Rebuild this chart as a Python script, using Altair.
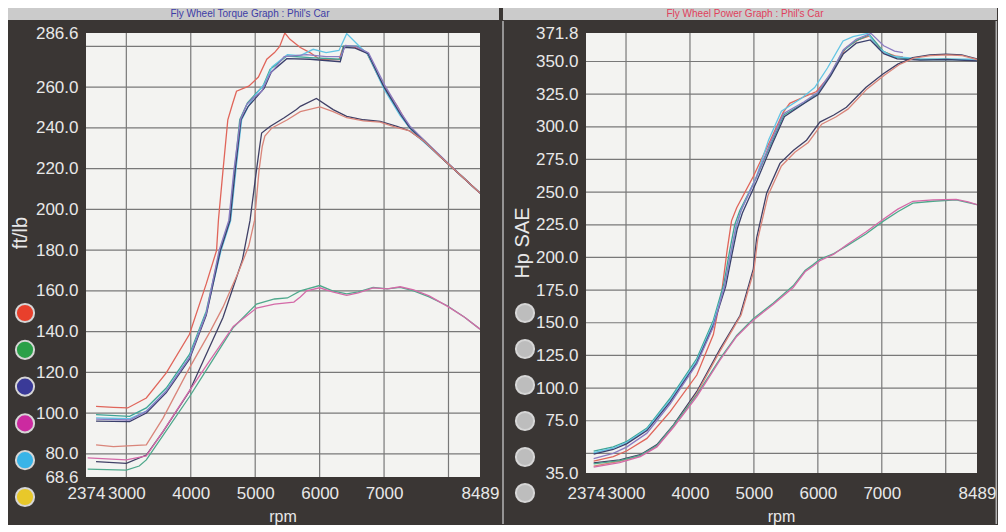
import altair as alt
import pandas as pd

# ---------------- Torque (ft/lb) runs ----------------
tq_red_rpm = [2530, 2800, 3020, 3310, 3620, 3980, 4240, 4400, 4430, 4500, 4575, 4650, 4710, 4900, 5050, 5180, 5300, 5380, 5460, 5540, 5700, 5850, 6000, 6300, 6370, 6550, 6730, 6900, 7000, 7200, 7380, 7620, 7870, 8180, 8489]
tq_red = [103.3, 102.8, 102.5, 107.4, 119.7, 138.7, 163.4, 179.8, 195.0, 219.0, 244.0, 252.0, 258.0, 260.5, 265.0, 273.7, 277.0, 280.0, 286.6, 283.5, 279.5, 277.0, 273.7, 273.5, 280.0, 279.5, 277.0, 266.0, 260.5, 251.0, 241.0, 234.0, 226.0, 217.0, 208.0]

tq_teal_rpm = [2530, 3050, 3310, 3620, 3980, 4240, 4450, 4600, 4680, 4760, 4880, 4970, 5120, 5230, 5490, 5850, 6320, 6370, 6580, 6730, 6990, 7250, 7380, 7620, 7870, 8180, 8489]
tq_teal = [99.2, 98.4, 102.5, 112.3, 128.8, 150.0, 179.8, 194.6, 219.3, 244.0, 252.3, 255.5, 260.5, 268.7, 275.3, 274.5, 273.7, 280.2, 280.2, 277.0, 260.5, 247.3, 240.7, 234.0, 226.0, 217.0, 208.0]

tq_cyan_rpm = [2530, 3050, 3310, 3620, 3980, 4240, 4470, 4620, 4700, 4790, 4900, 5000, 5150, 5260, 5500, 5700, 5900, 6100, 6300, 6420, 6620, 6750, 7000, 7250, 7460, 7870, 8180, 8489]
tq_cyan = [97.6, 97.2, 101.0, 111.0, 127.5, 149.0, 179.8, 194.6, 219.3, 244.0, 251.0, 256.0, 262.0, 270.0, 276.0, 275.5, 278.6, 277.0, 278.0, 286.3, 280.0, 276.0, 259.0, 246.0, 237.5, 226.0, 217.0, 208.0]

tq_navy_rpm = [2530, 3050, 3310, 3620, 3980, 4240, 4460, 4610, 4690, 4780, 4890, 4990, 5140, 5250, 5490, 5850, 6320, 6380, 6550, 6750, 7000, 7260, 7400, 7620, 7870, 8180, 8489]
tq_navy = [96.0, 95.8, 100.0, 110.0, 126.5, 148.0, 179.8, 194.6, 219.3, 244.0, 250.5, 254.0, 259.5, 267.5, 274.0, 273.7, 272.5, 279.6, 279.2, 276.5, 260.0, 246.5, 240.0, 233.5, 226.0, 217.0, 208.0]

tq_purple_rpm = [2530, 3050, 3310, 3620, 3980, 4240, 4440, 4590, 4670, 4770, 4870, 4980, 5100, 5220, 5450, 5800, 6100, 6330, 6400, 6560, 6760, 7010, 7270, 7400, 7620, 7870, 8180, 8489]
tq_purple = [97.0, 96.6, 100.8, 110.8, 127.2, 148.8, 179.8, 194.6, 219.3, 244.0, 251.5, 255.0, 258.0, 266.0, 275.0, 276.0, 275.0, 275.0, 280.5, 280.0, 276.8, 261.0, 247.0, 241.0, 234.0, 226.5, 217.0, 208.0]

tq_b_navy_rpm = [2530, 3000, 3310, 3570, 3980, 4500, 4800, 4920, 5020, 5070, 5100, 5230, 5450, 5640, 5700, 5950, 6210, 6420, 6680, 6940, 7200, 7400, 7620, 7870, 8180, 8489]
tq_b_navy = [76.1, 75.3, 79.4, 90.9, 110.7, 146.9, 175.0, 194.6, 219.3, 230.9, 237.5, 240.7, 245.0, 249.0, 250.6, 254.5, 249.0, 245.7, 244.0, 243.2, 240.7, 238.5, 233.5, 226.0, 217.0, 208.0]

tq_b_salmon_rpm = [2530, 2800, 3310, 3570, 3980, 4300, 4500, 4750, 4900, 4990, 5060, 5110, 5150, 5260, 5500, 5700, 6005, 6210, 6420, 6680, 6940, 7200, 7400, 7620, 7870, 8180, 8489]
tq_b_salmon = [84.4, 83.5, 84.4, 97.5, 122.2, 140.0, 152.0, 170.0, 182.0, 194.6, 219.3, 231.0, 236.0, 240.0, 244.0, 248.0, 250.3, 248.0, 245.0, 243.5, 242.8, 240.2, 238.5, 233.5, 226.0, 217.0, 208.0]

tq_c_green_rpm = [2400, 3000, 3200, 3310, 3570, 3980, 4300, 4660, 5020, 5300, 5500, 5700, 6000, 6200, 6420, 6600, 6830, 7050, 7250, 7460, 7700, 7980, 8250, 8489]
tq_c_green = [72.5, 72.0, 74.0, 77.0, 89.0, 108.0, 124.0, 142.0, 153.5, 156.0, 156.5, 160.0, 162.6, 160.0, 158.5, 159.5, 161.7, 161.0, 161.7, 160.0, 157.0, 152.7, 147.0, 141.2]

tq_c_magenta_rpm = [2400, 2700, 3000, 3310, 3570, 3980, 4300, 4660, 5020, 5300, 5600, 5700, 5800, 6000, 6200, 6420, 6600, 6830, 7050, 7250, 7460, 7700, 7980, 8250, 8489]
tq_c_magenta = [78.0, 77.5, 77.0, 79.0, 91.0, 111.0, 126.0, 142.5, 151.5, 153.5, 154.5, 157.0, 160.0, 161.5, 159.5, 157.8, 159.0, 161.5, 161.0, 162.0, 160.5, 157.5, 152.5, 147.0, 141.2]

# ---------------- Power (Hp SAE) runs ----------------
pw_red_rpm = [2494, 2800, 3015, 3327, 3691, 4107, 4366, 4500, 4580, 4650, 4731, 4990, 5250, 5458, 5560, 5770, 5979, 6200, 6343, 6450, 6650, 6809, 7018, 7227, 7330]
pw_red = [44.1, 47.5, 52.0, 61.5, 82.0, 110.0, 141.0, 175.0, 205.0, 228.0, 238.0, 262.0, 289.0, 311.0, 318.0, 322.6, 327.0, 340.0, 353.0, 361.0, 367.0, 369.5, 357.5, 354.0, 353.5]

pw_teal_rpm = [2494, 2800, 3015, 3327, 3691, 4107, 4366, 4530, 4620, 4700, 4780, 5020, 5270, 5470, 5780, 5990, 6200, 6394, 6600, 6809, 7018, 7227, 7600, 8007, 8489]
pw_teal = [51.7, 55.0, 59.3, 69.4, 92.2, 122.6, 152.0, 180.0, 205.0, 225.0, 236.0, 259.3, 287.2, 309.0, 318.0, 325.2, 340.0, 358.0, 366.0, 370.5, 358.0, 353.0, 351.5, 351.7, 351.0]

pw_cyan_rpm = [2494, 2800, 3015, 3327, 3691, 4107, 4366, 4550, 4650, 4730, 4800, 5040, 5230, 5430, 5750, 5950, 6150, 6394, 6550, 6780, 6950, 7150, 7600, 8007, 8422, 8489]
pw_cyan = [50.5, 54.0, 58.5, 68.5, 91.0, 121.0, 150.0, 180.0, 205.0, 224.0, 236.0, 262.0, 290.0, 312.0, 322.0, 330.0, 345.0, 365.7, 369.0, 371.5, 360.0, 354.0, 352.0, 351.7, 351.7, 351.5]

pw_navy_rpm = [2494, 2800, 3015, 3327, 3691, 4107, 4366, 4560, 4660, 4740, 4820, 5050, 5280, 5480, 5790, 6000, 6200, 6400, 6600, 6820, 7030, 7240, 7600, 8007, 8489]
pw_navy = [49.5, 53.0, 57.5, 67.5, 89.5, 119.5, 148.0, 178.0, 203.0, 222.0, 234.0, 259.0, 286.0, 308.0, 318.0, 324.5, 339.0, 356.0, 364.0, 366.5, 356.0, 352.0, 351.0, 351.5, 350.5]

pw_purple_rpm = [2494, 2800, 3015, 3327, 3691, 4107, 4366, 4540, 4640, 4720, 4800, 5030, 5260, 5460, 5780, 5990, 6200, 6400, 6600, 6830, 7030, 7200, 7330]
pw_purple = [46.0, 50.0, 55.0, 65.5, 88.0, 118.5, 147.0, 178.0, 204.0, 224.0, 236.0, 260.5, 288.0, 310.0, 319.0, 326.0, 341.0, 359.0, 367.0, 371.5, 362.0, 358.0, 356.8]

pw_b_navy_rpm = [2494, 2900, 3223, 3483, 3742, 4107, 4471, 4783, 4990, 5043, 5199, 5407, 5620, 5823, 6031, 6250, 6447, 6750, 7018, 7250, 7486, 7750, 8007, 8250, 8489]
pw_b_navy = [42.8, 45.0, 49.0, 56.7, 71.9, 97.4, 130.0, 155.5, 191.0, 215.0, 249.2, 272.0, 282.0, 289.7, 303.6, 309.0, 315.0, 330.0, 340.4, 348.0, 353.0, 355.0, 355.6, 355.0, 352.0]

pw_b_salmon_rpm = [2494, 2900, 3223, 3483, 3742, 4107, 4471, 4800, 5000, 5060, 5220, 5430, 5640, 5850, 6060, 6280, 6470, 6770, 7040, 7270, 7500, 7760, 8020, 8260, 8489]
pw_b_salmon = [40.3, 44.0, 48.0, 55.5, 70.5, 96.0, 128.5, 156.0, 190.0, 214.0, 247.5, 270.0, 280.5, 288.0, 302.0, 307.5, 313.5, 329.0, 339.5, 347.5, 352.5, 354.5, 355.0, 354.5, 351.5]

pw_c_green_rpm = [2494, 2900, 3223, 3483, 3742, 4107, 4471, 4731, 4990, 5300, 5614, 5800, 5927, 6031, 6250, 6447, 6750, 7018, 7250, 7486, 7800, 8163, 8350, 8489]
pw_c_green = [42.0, 44.5, 48.5, 56.0, 71.5, 94.8, 122.6, 140.3, 153.0, 165.0, 178.3, 190.0, 194.5, 198.5, 203.0, 208.7, 218.0, 227.6, 235.0, 241.6, 243.0, 244.0, 242.0, 240.4]

pw_c_magenta_rpm = [2494, 2900, 3223, 3483, 3742, 4107, 4471, 4731, 4990, 5300, 5614, 5800, 5927, 6031, 6250, 6447, 6750, 7018, 7250, 7486, 7800, 8163, 8350, 8489]
pw_c_magenta = [39.5, 43.0, 47.5, 55.0, 70.0, 93.5, 121.5, 139.5, 152.0, 164.0, 177.0, 189.0, 193.5, 197.5, 202.5, 209.5, 219.5, 229.0, 237.0, 243.0, 244.0, 244.5, 242.5, 240.4]

# ---------------- axes / labels ----------------
rpm_min, rpm_max = 2374, 8489
x_label_values = [2374, 3000, 4000, 5000, 6000, 7000, 8489]
x_grid_values = [3000, 4000, 5000, 6000, 7000, 8000]

tq_min, tq_max = 68.6, 286.6
tq_label_values = [68.6, 80, 100, 120, 140, 160, 180, 200, 220, 240, 260, 286.6]
tq_grid_values = [80, 100, 120, 140, 160, 180, 200, 220, 240, 260, 280]

pw_min, pw_max = 35.0, 371.8
pw_label_values = [35, 75, 100, 125, 150, 175, 200, 225, 250, 275, 300, 325, 350, 371.8]
pw_grid_values = [50, 75, 100, 125, 150, 175, 200, 225, 250, 275, 300, 325, 350]

torque_title = "Fly Wheel Torque Graph : Phil's Car"
power_title = "Fly Wheel Power Graph : Phil's Car"
torque_axis_title = "ft/lb"
power_axis_title = "Hp SAE"
x_axis_title = "rpm"

run_names = ["A red", "A teal", "A cyan", "A navy", "A purple", "B navy", "B salmon", "C green", "C magenta"]
run_colors = ["#e0655a", "#3ea596", "#62c4e4", "#3a3f6c", "#8c7cc2", "#404066", "#d9857a", "#4fa88c", "#d46aa8"]

left_dots = ["d1", "d2", "d3", "d4", "d5", "d6"]
left_dot_colors = ["#e8402c", "#2aa048", "#3a3a98", "#cc2aa0", "#38b4e8", "#e8c82a"]
right_dots = ["g1", "g2", "g3", "g4", "g5", "g6"]
right_dot_colors = ["#bdbdbd", "#bdbdbd", "#bdbdbd", "#bdbdbd", "#bdbdbd", "#bdbdbd"]

torque_runs = [
    ("A red", tq_red_rpm, tq_red), ("A teal", tq_teal_rpm, tq_teal), ("A cyan", tq_cyan_rpm, tq_cyan),
    ("A navy", tq_navy_rpm, tq_navy), ("A purple", tq_purple_rpm, tq_purple),
    ("B navy", tq_b_navy_rpm, tq_b_navy), ("B salmon", tq_b_salmon_rpm, tq_b_salmon),
    ("C green", tq_c_green_rpm, tq_c_green), ("C magenta", tq_c_magenta_rpm, tq_c_magenta),
]
power_runs = [
    ("A red", pw_red_rpm, pw_red), ("A teal", pw_teal_rpm, pw_teal), ("A cyan", pw_cyan_rpm, pw_cyan),
    ("A navy", pw_navy_rpm, pw_navy), ("A purple", pw_purple_rpm, pw_purple),
    ("B navy", pw_b_navy_rpm, pw_b_navy), ("B salmon", pw_b_salmon_rpm, pw_b_salmon),
    ("C green", pw_c_green_rpm, pw_c_green), ("C magenta", pw_c_magenta_rpm, pw_c_magenta),
]


def long_frame(runs):
    rows = []
    for name, rpm, vals in runs:
        for i, (r, v) in enumerate(zip(rpm, vals)):
            rows.append({"run": name, "rpm": r, "v": v, "i": i})
    return pd.DataFrame(rows)


BG = "#3a3634"
PLOT_BG = "#f3f3f1"
GRID = "#787878"
LABEL = "#e8e8e8"
BAR = "#cbcbcb"
FONT = "Liberation Sans"
one = pd.DataFrame({"k": [0]})


def text_mark(txt, x, y, size, color, angle=0):
    return alt.Chart(pd.DataFrame({"t": [txt]})).mark_text(
        fontSize=size, color=color, font=FONT, angle=angle, align="center", baseline="middle"
    ).encode(text="t:N", x=alt.value(x), y=alt.value(y))


def rect_mark(x1, x2, y1, y2, color):
    return alt.Chart(one).mark_rect(color=color).encode(
        x=alt.value(x1), x2=alt.value(x2), y=alt.value(y1), y2=alt.value(y2))


def vrule(x, y1, y2, color, w):
    return alt.Chart(one).mark_rule(color=color, strokeWidth=w).encode(
        x=alt.value(x), y=alt.value(y1), y2=alt.value(y2))


def panel(runs, W, H, ymin, ymax, ylabels, ygrid, title, title_color, bar_x1, bar_x2,
          title_x, ytitle, ytitle_x, ytitle_y, dots, dot_colors, dot_range, xlab_pad, extras):
    xs = alt.Scale(domain=[rpm_min, rpm_max], nice=False, zero=False)
    ys = alt.Scale(domain=[ymin, ymax], nice=False, zero=False)
    xaxis = alt.Axis(
        values=x_label_values, format="d", title=None, ticks=False, domain=False, grid=False,
        labelPadding=xlab_pad, labelFlush=False, labelOverlap=False, labelFontSize=17,
        labelColor=LABEL, labelFont=FONT)
    yaxis = alt.Axis(
        values=ylabels, format=".1f", title=None, ticks=False, domain=False, grid=False,
        labelPadding=8, labelOverlap=False, labelFontSize=17, labelColor=LABEL, labelFont=FONT)
    df = long_frame(runs)
    gx = alt.Chart(pd.DataFrame({"rpm": x_grid_values})).mark_rule(color=GRID, strokeWidth=1.2).encode(
        x=alt.X("rpm:Q", scale=xs, axis=xaxis))
    gy = alt.Chart(pd.DataFrame({"v": ygrid})).mark_rule(color=GRID, strokeWidth=1.2).encode(
        y=alt.Y("v:Q", scale=ys, axis=yaxis))
    lines = alt.Chart(df).mark_line(strokeWidth=1.3, clip=True).encode(
        x=alt.X("rpm:Q", scale=xs, axis=xaxis),
        y=alt.Y("v:Q", scale=ys, axis=yaxis),
        color=alt.Color("run:N", scale=alt.Scale(domain=run_names, range=run_colors), legend=None),
        order="i:Q",
    )
    layers = [
        rect_mark(bar_x1, bar_x2, -25, -13, BAR),
        text_mark(title, title_x, -19, 10, title_color),
        gx, gy, lines,
        text_mark(x_axis_title, W / 2, 484, 16, LABEL),
        text_mark(ytitle, ytitle_x, ytitle_y, 20, LABEL, angle=270),
    ] + extras
    main = alt.layer(*layers)
    dots_layer = alt.Chart(pd.DataFrame({"c": dots})).mark_circle(
        size=330, opacity=1, stroke="#d6d6d6", strokeWidth=2
    ).encode(
        x=alt.value(-61),
        y=alt.Y("c:N", scale=alt.Scale(type="point", domain=dots, range=dot_range, padding=0), axis=None),
        fill=alt.Fill("c:N", scale=alt.Scale(domain=dots, range=dot_colors), legend=None),
    )
    return alt.layer(main, dots_layer).resolve_scale(y="independent").properties(width=W, height=H)


left = panel(torque_runs, 394, 444, tq_min, tq_max, tq_label_values, tq_grid_values,
             torque_title, "#3d3da6", -78, 413, 164, torque_axis_title, -65, 200,
             left_dots, left_dot_colors, [280, 464], 8, [])
right = panel(power_runs, 391, 440, pw_min, pw_max, pw_label_values, pw_grid_values,
              power_title, "#e0405c", -83, 411, 159, power_axis_title, -63, 210,
              right_dots, right_dot_colors, [280, 460], 12,
              [vrule(-83, -12, 491, "#b4b4b4", 1.5), vrule(410.3, -12, 491, "#b4b4b4", 1.5)])

chart = alt.hconcat(left, right, spacing=106, bounds="flush").resolve_scale(
    fill="independent"
).properties(
    padding=0, background=BG
).configure_view(fill=PLOT_BG, stroke=None)

chart.save("out.html", embed_options={"renderer": "svg", "actions": False})
